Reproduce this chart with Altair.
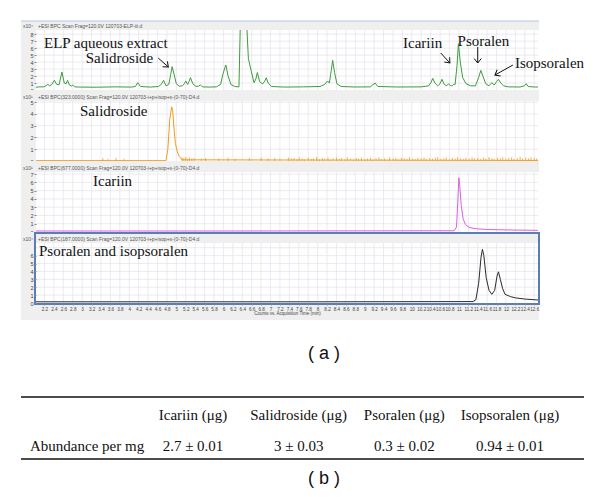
import altair as alt
import pandas as pd

W = 502
SERIF = "Liberation Serif"
SANS = "Liberation Sans"
GRAY_BG = "#efefef"
GRID = "#e3e3ea"

# ---------------- x axis (acquisition time, min) ----------------
t_domain = [2.02, 12.68]
time_ticks = [2.2, 2.4, 2.6, 2.8, 3.0, 3.2, 3.4, 3.6, 3.8, 4.0, 4.2, 4.4, 4.6, 4.8,
              5.0, 5.2, 5.4, 5.6, 5.8, 6.0, 6.2, 6.4, 6.6, 6.8, 7.0, 7.2, 7.4, 7.6,
              7.8, 8.0, 8.2, 8.4, 8.6, 8.8, 9.0, 9.2, 9.4, 9.6, 9.8, 10.0, 10.2, 10.4,
              10.6, 10.8, 11.0, 11.2, 11.4, 11.6, 11.8, 12.0, 12.2, 12.4, 12.6]

# ---------------- panel 1: ELP aqueous extract (x10^4) ----------------
elp_t = [2.02, 2.10, 2.18, 2.23, 2.27, 2.31, 2.35, 2.41, 2.46, 2.51,
         2.57, 2.62, 2.66, 2.69, 2.73, 2.77, 2.80, 2.84, 2.95, 3.3,
         3.7, 4.05, 4.13, 4.18, 4.24, 4.45, 4.62, 4.68, 4.73, 4.78,
         4.84, 4.88, 4.91, 4.95, 5.0, 5.06, 5.13, 5.17, 5.20, 5.24,
         5.27, 5.30, 5.35, 5.42, 5.47, 5.51, 5.56, 5.70, 5.85, 5.94,
         5.99, 6.05, 6.10, 6.16, 6.24, 6.33, 6.36, 6.49, 6.53, 6.58,
         6.65, 6.69, 6.72, 6.77, 6.83, 6.88, 6.91, 6.95, 7.02, 7.3,
         7.7, 8.05, 8.15, 8.21, 8.25, 8.29, 8.32, 8.36, 8.41, 8.5,
         8.8, 9.12, 9.22, 9.28, 9.7, 10.2, 10.36, 10.41, 10.445, 10.49,
         10.55, 10.60, 10.64, 10.69, 10.74, 10.78, 10.82, 10.86, 10.885, 10.92,
         10.96, 10.99, 11.03, 11.08, 11.15, 11.25, 11.35, 11.42, 11.466, 11.51,
         11.57, 11.64, 11.70, 11.75, 11.80, 11.84, 11.89, 11.95, 12.05, 12.3,
         12.39, 12.43, 12.47, 12.6, 12.68]
elp_v = [0.40, 0.45, 0.45, 0.6, 0.81, 0.6, 0.75, 1.39, 0.8, 0.75,
         2.58, 1.0, 0.9, 1.39, 0.7, 0.55, 0.72, 0.45, 0.42, 0.4,
         0.45, 0.42, 0.5, 1.05, 0.5, 0.42, 0.5, 0.8, 1.39, 0.6,
         0.8, 2.2, 3.34, 2.3, 0.9, 0.55, 0.6, 0.9, 1.29, 0.8,
         1.2, 1.77, 0.9, 0.5, 0.55, 0.72, 0.45, 0.42, 0.45, 0.8,
         2.3, 3.58, 2.0, 0.8, 0.5, 0.45, 10.0, 10.0, 4.5, 3.0,
         1.05, 1.6, 2.5, 1.2, 0.86, 1.3, 1.76, 1.0, 0.5, 0.42,
         0.45, 0.5, 0.8, 1.29, 1.0, 2.8, 4.25, 2.5, 0.9, 0.5,
         0.43, 0.45, 1.0, 0.5, 0.43, 0.45, 0.6, 1.1, 1.67, 1.0,
         0.6, 0.9, 1.53, 0.8, 0.6, 0.9, 0.6, 0.6, 0.81, 0.8,
         3.5, 6.64, 4.0, 1.8, 0.9, 0.6, 0.6, 1.8, 2.82, 2.0,
         0.9, 0.6, 1.05, 0.7, 1.2, 1.53, 1.0, 0.6, 0.45, 0.43,
         0.6, 0.9, 0.5, 0.43, 0.43]

# ---------------- panel 2: salidroside BPC(323) (x10^1) ----------------
sal_t = [2.02, 4.78, 4.82, 4.86, 4.90, 4.92, 4.95, 4.98, 5.02, 5.06, 5.12, 12.68]
sal_v = [0.03, 0.03, 1.0, 3.5, 4.6, 4.4, 2.8, 1.5, 0.8, 0.4, 0.1, 0.05]
sal_spike_t = [3.44, 3.55, 3.72, 3.89, 5.12, 5.16, 5.20, 5.24, 5.28, 5.33,
               5.38, 5.53, 5.62, 5.90, 6.10, 6.25, 6.55, 6.80, 6.95, 7.09,
               7.20, 7.38, 7.44, 7.50, 7.56, 7.61, 7.67, 7.72, 7.80, 7.86,
               7.91, 7.98, 8.04, 8.10, 8.15, 8.22, 8.27, 8.33, 8.40, 8.46,
               8.51, 8.58, 8.63, 8.70, 8.76, 8.82, 8.87, 8.93, 9.00, 9.06,
               9.12, 9.17, 9.24, 9.30, 9.35, 9.42, 9.48, 9.53, 9.60, 9.66,
               9.71, 9.78, 9.84, 9.90, 9.95, 10.02, 10.08, 10.13, 10.20, 10.26,
               10.31, 10.38, 10.44, 10.50, 10.55, 10.62, 10.68, 10.73, 10.80, 10.86,
               10.92, 10.97, 11.04, 11.10, 11.15, 11.22, 11.28, 11.33, 11.40, 11.46,
               11.52, 11.57, 11.64, 11.70, 11.75, 11.82, 11.88, 11.93, 12.00, 12.06,
               12.12, 12.17, 12.24, 12.30, 12.35, 12.42, 12.48, 12.53, 12.60, 12.65]
sal_spike_h = [0.25, 0.2, 0.28, 0.2, 0.3, 0.25, 0.35, 0.2, 0.3, 0.22,
               0.25, 0.2, 0.25, 0.22, 0.28, 0.2, 0.25, 0.3, 0.22, 0.25,
               0.2, 0.28, 0.22, 0.25, 0.15, 0.3, 0.2, 0.12, 0.28, 0.18,
               0.22, 0.35, 0.15, 0.25, 0.2, 0.3, 0.12, 0.22, 0.28, 0.18,
               0.25, 0.15, 0.32, 0.2, 0.12, 0.26, 0.2, 0.3, 0.15, 0.22,
               0.28, 0.14, 0.24, 0.3, 0.18, 0.22, 0.12, 0.3, 0.2, 0.26,
               0.15, 0.28, 0.22, 0.18, 0.32, 0.2, 0.14, 0.26, 0.22, 0.3,
               0.16, 0.24, 0.2, 0.28, 0.34, 0.18, 0.22, 0.3, 0.15, 0.26,
               0.2, 0.32, 0.24, 0.18, 0.28, 0.2, 0.3, 0.22, 0.26, 0.16,
               0.3, 0.2, 0.34, 0.24, 0.18, 0.28, 0.22, 0.32, 0.2, 0.26,
               0.3, 0.18, 0.24, 0.34, 0.2, 0.28, 0.22, 0.3, 0.24, 0.2]

# ---------------- panel 3: icariin BPC(677) (x10^1) ----------------
ica_t = [2.02, 6.0, 10.9, 10.95, 10.98, 11.00, 11.02, 11.05, 11.09, 11.14, 11.22, 11.35, 11.6, 12.0, 12.68]
ica_v = [0.12, 0.12, 0.15, 0.6, 4.0, 6.55, 5.5, 3.2, 1.6, 0.9, 0.55, 0.4, 0.3, 0.25, 0.2]

# ---------------- panel 4: psoralen / isopsoralen BPC(187) (x10^4) ----------------
pso_t = [2.02, 5.0, 8.0, 11.3, 11.36, 11.42, 11.47, 11.50, 11.53, 11.58, 11.64,
         11.70, 11.76, 11.81, 11.84, 11.88, 11.93, 11.98, 12.1, 12.2, 12.4, 12.68]
pso_v = [0.15, 0.15, 0.15, 0.18, 0.4, 2.5, 5.8, 6.8, 6.0, 3.2, 1.6,
         1.1, 1.6, 3.4, 3.95, 3.0, 1.8, 1.1, 0.8, 0.65, 0.5, 0.38]

# ---------------- annotations in panel 1 ----------------
ann_label = ["ELP aqueous extract", "Salidroside", "Icariin", "Psoralen", "Isopsoralen"]
ann_t = [2.19, 4.51, 10.23, 11.52, 12.19]
ann_v = [6.8, 4.6, 6.73, 7.02, 3.87]
ann_align = ["left", "right", "center", "center", "left"]
arrow_t0 = [4.615, 10.615, 11.40, 12.147]
arrow_v0 = [4.58, 5.30, 6.16, 3.58]
arrow_t1 = [4.83, 10.81, 11.40, 11.766]
arrow_v1 = [3.30, 3.87, 3.87, 2.15]
arrow_angle = [42, 48, 90, 151]

# ---------------- table ----------------
tbl_cols = ["Icariin (\u03bcg)", "Salidroside (\u03bcg)", "Psoralen (\u03bcg)", "Isopsoralen (\u03bcg)"]
tbl_vals = ["2.7 \u00b1 0.01", "3 \u00b1 0.03", "0.3 \u00b1 0.02", "0.94 \u00b1 0.01"]
tbl_row_label = "Abundance per mg"

xscale = alt.Scale(domain=t_domain, nice=False, zero=False)


def dummy():
    return pd.DataFrame({"d": [0]})


def rect(x, x2, y, y2, color):
    return alt.Chart(dummy()).mark_rect(color=color).encode(
        x=alt.value(x), x2=alt.value(x2), y=alt.value(y), y2=alt.value(y2))


def panel(H, ymax, yticks, ygrid, line_t, line_v, color, exp, header, top_gap,
          last=False, extra=None, top_line=False):
    ysc = alt.Scale(domain=[0, ymax], nice=False, zero=True)
    if last:
        xaxis = alt.Axis(values=time_ticks, format="~g", labelFontSize=4.6, labelFont=SANS,
                         labelColor="#444", tickSize=2, tickColor="#888", domain=False,
                         grid=False, labelOverlap=False, labelPadding=1,
                         title="Counts vs. Acquisition Time (min)", titleFontSize=4.5,
                         titleFont=SANS, titleFontWeight="normal", titleColor="#444",
                         titlePadding=0, zindex=1)
    else:
        xaxis = None
    yaxis = alt.Axis(values=yticks, labelFontSize=5.5, labelFont=SANS, labelColor="#444",
                     tickSize=2, tickColor="#888", domain=False, grid=False, labelPadding=1,
                     title=None, zindex=1)

    def X(f):
        return alt.X(f, scale=xscale, axis=xaxis)

    def Y(f):
        return alt.Y(f, scale=ysc, axis=yaxis)

    layers = [rect(-15, W + 1, -top_gap, 0, GRAY_BG),
              rect(-15, 0, -top_gap, H + (17 if last else 0), GRAY_BG)]
    if last:
        layers.append(rect(-15, W + 1, H, H + 17, GRAY_BG))
    if top_line:
        layers.append(alt.Chart(dummy()).mark_rule(color="#b3c7e8", strokeWidth=1).encode(
            x=alt.value(-15), x2=alt.value(W + 1), y=alt.value(-top_gap)))
    layers.append(alt.Chart(pd.DataFrame({"t": time_ticks})).mark_rule(
        color=GRID, strokeWidth=0.7).encode(x=X("t:Q")))
    layers.append(alt.Chart(pd.DataFrame({"v": ygrid})).mark_rule(
        color=GRID, strokeWidth=0.7).encode(y=Y("v:Q")))
    if extra:
        layers.extend(extra(X, Y))
    df = pd.DataFrame({"t": line_t, "v": line_v})
    layers.append(alt.Chart(df).mark_line(color=color, strokeWidth=1, clip=True).encode(
        x=X("t:Q"), y=Y("v:Q")))
    layers.append(alt.Chart(dummy()).mark_text(
        align="left", baseline="middle", fontSize=5, font=SANS, color="#555").encode(
        x=alt.value(-13), y=alt.value(-4.5), text=alt.value(exp)))
    layers.append(alt.Chart(dummy()).mark_text(
        align="left", baseline="middle", fontSize=5, font=SANS, color="#555").encode(
        x=alt.value(2), y=alt.value(-4.5), text=alt.value(header)))
    if last:
        layers.append(alt.Chart(dummy()).mark_rect(
            fillOpacity=0, stroke="#5b7db5", strokeWidth=2).encode(
            x=alt.value(-1), x2=alt.value(W + 1), y=alt.value(-10), y2=alt.value(H + 1)))
    return alt.layer(*layers).properties(width=W, height=H)


def label(X, Y, t, v, text, align="left"):
    return alt.Chart(pd.DataFrame({"t": [t], "v": [v], "s": [text]})).mark_text(
        align=align, baseline="middle", font=SERIF, fontSize=15, color="#111").encode(
        x=X("t:Q"), y=Y("v:Q"), text="s:N")


def extra1(X, Y):
    out = []
    for i in range(len(ann_label)):
        out.append(label(X, Y, ann_t[i], ann_v[i], ann_label[i], ann_align[i]))
    adf = pd.DataFrame({"t": arrow_t0, "v": arrow_v0, "t1": arrow_t1, "v1": arrow_v1,
                        "a": arrow_angle})
    out.append(alt.Chart(adf).mark_rule(color="#111", strokeWidth=1).encode(
        x=X("t:Q"), y=Y("v:Q"), x2="t1:Q", y2="v1:Q"))
    hdf = pd.DataFrame({"t": arrow_t1, "v": arrow_v1, "a": arrow_angle})
    out.append(alt.Chart(hdf).mark_point(
        shape="M -1 -0.8 L 0 0 L -1 0.8", filled=False, color="#111", strokeWidth=1,
        size=80, opacity=1).encode(
        x=X("t:Q"), y=Y("v:Q"), angle=alt.Angle("a:Q", scale=None)))
    return out


def extra2(X, Y):
    sdf = pd.DataFrame({"t": sal_spike_t, "v": sal_spike_h})
    return [alt.Chart(sdf).mark_rule(color="#f39a1e", strokeWidth=0.8).encode(
        x=X("t:Q"), y=Y("v:Q"), y2=alt.datum(0)),
        label(X, Y, 2.955, 4.25, "Salidroside")]


def extra3(X, Y):
    return [label(X, Y, 3.23, 6.16, "Icariin")]


def extra4(X, Y):
    return [label(X, Y, 2.083, 6.58, "Psoralen and isopsoralen")]


p1 = panel(60, 8.6, [0, 1, 2, 3, 4, 5, 6, 7, 8], [1, 2, 3, 4, 5, 6, 7, 8], elp_t, elp_v,
           "#3d9b3d", "x10\u2074", "+ESI BPC Scan Frag=120.0V 120703-ELP-iii.d", 9,
           extra=extra1, top_line=True)
p2 = panel(60, 5.1, [0, 1, 2, 3, 4, 5], [1, 2, 3, 4, 5], sal_t, sal_v, "#f39a1e",
           "x10\u00b9", "+ESI BPC(323.0000) Scan Frag=120.0V 120703-i+p+isop+s-(0-70)-D4.d", 11,
           extra=extra2)
p3 = panel(60, 7.25, [0, 1, 2, 3, 4, 5, 6, 7], [1, 2, 3, 4, 5, 6, 7], ica_t, ica_v, "#dc5fe0",
           "x10\u00b9", "+ESI BPC(677.0000) Scan Frag=120.0V 120703-i+p+isop+s-(0-70)-D4.d", 11,
           extra=extra3)
p4 = panel(60, 7.6, [0, 1, 2, 3, 4, 5, 6], [1, 2, 3, 4, 5, 6, 7], pso_t, pso_v, "#2a2a2a",
           "x10\u2074", "+ESI BPC(187.0000) Scan Frag=120.0V 120703-i+p+isop+s-(0-70)-D4.d", 11,
           last=True, extra=extra4)

# ---------------- table chart ----------------
OFF = 27
TH = 150 + OFF
colx = alt.X("col:N", scale=alt.Scale(domain=tbl_cols, type="point", range=[157, 474], padding=0), axis=None)
rowy = alt.Y("row:N", scale=alt.Scale(domain=["header", "data"], type="point",
                                      range=[74 + OFF, 105 + OFF], padding=0), axis=None)
hdr = alt.Chart(pd.DataFrame({"col": tbl_cols, "row": ["header"] * 4, "s": tbl_cols})).mark_text(
    font=SERIF, fontSize=15, color="#111", baseline="middle").encode(x=colx, y=rowy, text="s:N")
vals = alt.Chart(pd.DataFrame({"col": tbl_cols, "row": ["data"] * 4, "s": tbl_vals})).mark_text(
    font=SERIF, fontSize=15, color="#111", baseline="middle").encode(x=colx, y=rowy, text="s:N")
rowlab = alt.Chart(pd.DataFrame({"row": ["data"], "s": [tbl_row_label]})).mark_text(
    font=SERIF, fontSize=15, color="#111", align="left", baseline="middle").encode(
    x=alt.value(-6), y=rowy, text="s:N")
rule_top = alt.Chart(dummy()).mark_rule(color="#111", strokeWidth=1.3).encode(
    x=alt.value(-15), x2=alt.value(548), y=alt.value(56 + OFF))
rule_bot = alt.Chart(dummy()).mark_rule(color="#111", strokeWidth=1.3).encode(
    x=alt.value(-15), x2=alt.value(548), y=alt.value(118 + OFF))
cap_a = alt.Chart(dummy()).mark_text(font=SANS, fontSize=18, color="#111", baseline="middle").encode(
    x=alt.value(288), y=alt.value(13 + OFF), text=alt.value("( a )"))
cap_b = alt.Chart(dummy()).mark_text(font=SANS, fontSize=18, color="#111", baseline="middle").encode(
    x=alt.value(288), y=alt.value(138 + OFF), text=alt.value("( b )"))
table = alt.layer(rule_top, rule_bot, hdr, vals, rowlab, cap_a, cap_b).properties(width=W, height=TH)

chart = alt.vconcat(p1, p2, p3, p4, table, spacing=11, bounds="flush").properties(
    padding={"left": 12, "top": 12, "right": 5, "bottom": 2}, background="white"
).configure_view(strokeWidth=0, stroke="transparent")

chart.save("out.html", embed_options={"renderer": "svg", "actions": False})
